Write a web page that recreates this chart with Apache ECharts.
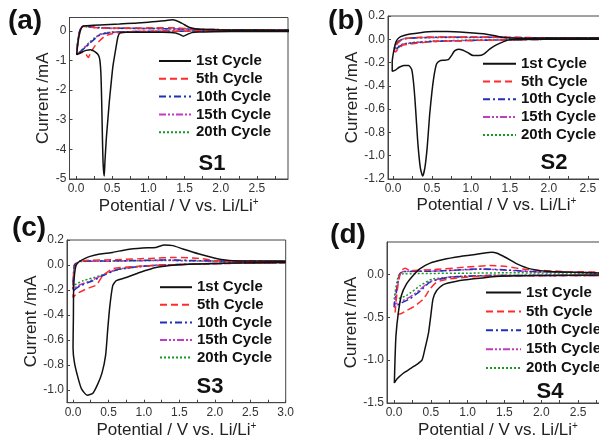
<!DOCTYPE html>
<html>
<head>
<meta charset="utf-8">
<script src="https://cdn.jsdelivr.net/npm/echarts@6/dist/echarts.min.js"></script>
<style>html,body{margin:0;padding:0;background:#fff}#c{width:599px;height:439px}</style>
</head>
<body>
<div id="c"></div>
<script>
// ---------- data ----------
const cycleNames = ['1st Cycle', '5th Cycle', '10th Cycle', '15th Cycle', '20th Cycle'];
const panelLabels = ['(a)', '(b)', '(c)', '(d)'];
const sampleLabels = ['S1', 'S2', 'S3', 'S4'];
const xTickLabels = [0, 0.5, 1.0, 1.5, 2.0, 2.5, 3.0];
const xMinorTicks = [0, 0.25, 0.5, 0.75, 1.0, 1.25, 1.5, 1.75, 2.0, 2.25, 2.5, 2.75, 3.0];
const yTicksA = [-5, -4, -3, -2, -1, 0];
const yTicksB = [-1.2, -1.0, -0.8, -0.6, -0.4, -0.2, 0.0, 0.2];
const yTicksC = [-1.0, -0.8, -0.6, -0.4, -0.2, 0.0, 0.2];
const yTicksD = [-1.5, -1.0, -0.5, 0.0];

// S1
const s1_c1 = [[2.95,-0.02],[2.4,-0.02],[1.9,-0.03],[1.7,-0.04],[1.6,-0.06],[1.54,-0.12],[1.48,-0.18],[1.44,-0.13],[1.38,-0.07],[1.2,-0.05],[0.9,-0.05],[0.7,-0.05],[0.61,-0.07],[0.58,-0.2],[0.55,-0.6],[0.51,-1.2],[0.48,-1.9],[0.46,-2.4],[0.44,-3.0],[0.42,-3.6],[0.4,-4.4],[0.39,-4.9],[0.375,-4.5],[0.365,-3.6],[0.355,-2.4],[0.345,-1.5],[0.33,-1.0],[0.31,-0.82],[0.26,-0.7],[0.2,-0.64],[0.14,-0.66],[0.08,-0.72],[0.04,-0.77],[0.01,-0.8],[0.02,-0.55],[0.04,-0.2],[0.07,0.08],[0.1,0.16],[0.15,0.17],[0.33,0.2],[0.6,0.23],[0.8,0.26],[1.0,0.29],[1.25,0.35],[1.34,0.37],[1.46,0.26],[1.57,0.11],[1.7,0.05],[2.0,0.03],[2.95,0.02]];
const s1_c5 = [[2.95,0.0],[2.0,0.0],[1.5,-0.01],[1.0,-0.02],[0.7,-0.04],[0.5,-0.1],[0.4,-0.18],[0.32,-0.35],[0.25,-0.55],[0.2,-0.75],[0.17,-0.9],[0.14,-0.8],[0.1,-0.72],[0.05,-0.76],[0.01,-0.8],[0.02,-0.5],[0.04,-0.15],[0.07,0.08],[0.1,0.15],[0.15,0.15],[0.25,0.11],[0.5,0.09],[1.0,0.1],[1.4,0.1],[1.6,0.06],[2.0,0.04],[2.95,0.03]];
const s1_c10 = [[2.95,0.0],[2.0,0.0],[1.5,-0.01],[1.0,-0.02],[0.7,-0.03],[0.5,-0.05],[0.4,-0.09],[0.33,-0.14],[0.26,-0.27],[0.19,-0.42],[0.13,-0.56],[0.08,-0.66],[0.04,-0.75],[0.01,-0.8],[0.02,-0.45],[0.04,-0.1],[0.07,0.1],[0.1,0.17],[0.15,0.15],[0.26,0.12],[0.5,0.09],[1.0,0.08],[1.5,0.06],[2.0,0.04],[2.95,0.03]];
const s1_c15 = [[2.95,0.0],[2.0,0.0],[1.5,-0.01],[1.0,-0.02],[0.7,-0.03],[0.5,-0.05],[0.4,-0.08],[0.33,-0.13],[0.26,-0.25],[0.19,-0.4],[0.13,-0.54],[0.08,-0.65],[0.04,-0.74],[0.01,-0.79],[0.02,-0.45],[0.04,-0.1],[0.07,0.1],[0.1,0.16],[0.15,0.15],[0.26,0.11],[0.5,0.09],[1.0,0.08],[1.5,0.06],[2.0,0.04],[2.95,0.03]];
const s1_c20 = [[2.95,0.0],[2.0,0.0],[1.5,-0.01],[1.0,-0.02],[0.7,-0.03],[0.5,-0.04],[0.4,-0.07],[0.33,-0.12],[0.26,-0.23],[0.19,-0.38],[0.13,-0.52],[0.08,-0.64],[0.04,-0.73],[0.01,-0.78],[0.02,-0.45],[0.04,-0.1],[0.07,0.1],[0.1,0.16],[0.15,0.14],[0.26,0.11],[0.5,0.08],[1.0,0.08],[1.5,0.06],[2.0,0.04],[2.95,0.03]];

// S2
const s2_c1 = [[3.0,0.0],[2.2,0.0],[1.7,0.0],[1.5,-0.005],[1.42,-0.02],[1.32,-0.05],[1.24,-0.085],[1.17,-0.125],[1.1,-0.14],[1.03,-0.14],[0.96,-0.115],[0.9,-0.094],[0.84,-0.085],[0.79,-0.1],[0.75,-0.14],[0.71,-0.175],[0.65,-0.18],[0.6,-0.185],[0.56,-0.21],[0.53,-0.3],[0.5,-0.45],[0.47,-0.65],[0.44,-0.92],[0.41,-1.1],[0.38,-1.175],[0.35,-1.1],[0.32,-0.9],[0.3,-0.7],[0.28,-0.5],[0.26,-0.35],[0.24,-0.26],[0.2,-0.225],[0.14,-0.225],[0.08,-0.24],[0.03,-0.265],[-0.01,-0.275],[-0.01,-0.2],[0.01,-0.1],[0.04,-0.02],[0.08,0.015],[0.13,0.03],[0.22,0.045],[0.35,0.057],[0.52,0.066],[0.7,0.066],[0.94,0.058],[1.2,0.044],[1.42,0.015],[1.6,0.008],[2.0,0.01],[3.0,0.01]];
const s2_c5 = [[3.0,0.005],[2.0,0.0],[1.5,-0.005],[1.0,-0.01],[0.5,-0.02],[0.3,-0.035],[0.13,-0.05],[0.07,-0.08],[0.03,-0.11],[0.02,-0.1],[0.04,-0.05],[0.09,-0.015],[0.15,0.005],[0.3,0.015],[0.7,0.02],[1.2,0.02],[1.5,0.018],[2.0,0.012],[3.0,0.01]];
const s2_c10 = [[3.0,0.005],[2.0,0.0],[1.5,-0.005],[1.0,-0.01],[0.5,-0.02],[0.3,-0.03],[0.13,-0.045],[0.07,-0.07],[0.03,-0.09],[0.02,-0.085],[0.04,-0.045],[0.09,-0.012],[0.15,0.006],[0.3,0.014],[0.7,0.018],[1.2,0.018],[1.5,0.016],[2.0,0.012],[3.0,0.01]];
const s2_c15 = [[3.0,0.005],[2.0,0.0],[1.5,-0.005],[1.0,-0.01],[0.5,-0.018],[0.3,-0.028],[0.13,-0.042],[0.07,-0.065],[0.03,-0.085],[0.02,-0.08],[0.04,-0.04],[0.09,-0.01],[0.15,0.006],[0.3,0.013],[0.7,0.017],[1.2,0.017],[1.5,0.015],[2.0,0.011],[3.0,0.01]];
const s2_c20 = [[3.0,0.005],[2.0,0.0],[1.5,-0.005],[1.0,-0.008],[0.5,-0.016],[0.3,-0.025],[0.13,-0.04],[0.07,-0.06],[0.03,-0.075],[0.02,-0.07],[0.04,-0.035],[0.09,-0.008],[0.15,0.006],[0.3,0.012],[0.7,0.016],[1.2,0.016],[1.5,0.014],[2.0,0.011],[3.0,0.01]];

// S3
const s3_c1 = [[3.0,0.021],[2.25,0.016],[1.78,0.008],[1.45,0.0],[1.17,-0.02],[0.94,-0.06],[0.75,-0.1],[0.61,-0.125],[0.56,-0.165],[0.52,-0.325],[0.49,-0.51],[0.46,-0.72],[0.41,-0.86],[0.35,-0.95],[0.28,-1.024],[0.2,-1.04],[0.12,-0.99],[0.07,-0.9],[0.02,-0.78],[0.0,-0.66],[0.005,-0.43],[0.01,-0.166],[0.04,-0.006],[0.1,0.032],[0.17,0.053],[0.24,0.069],[0.38,0.088],[0.56,0.101],[0.75,0.123],[0.98,0.136],[1.17,0.141],[1.29,0.16],[1.41,0.155],[1.55,0.128],[1.78,0.088],[2.02,0.053],[2.25,0.035],[3.0,0.032]];
const s3_c5 = [[3.0,0.018],[2.25,0.013],[1.31,0.0],[0.84,-0.013],[0.56,-0.03],[0.42,-0.085],[0.33,-0.16],[0.19,-0.19],[0.05,-0.23],[0.0,-0.26],[0.02,-0.03],[0.07,0.02],[0.14,0.035],[0.61,0.043],[1.08,0.053],[1.45,0.061],[1.78,0.053],[2.02,0.035],[3.0,0.027]];
const s3_c10 = [[3.0,0.02],[2.0,0.012],[1.08,-0.005],[0.66,-0.032],[0.47,-0.072],[0.28,-0.126],[0.1,-0.166],[0.0,-0.206],[0.02,0.0],[0.1,0.032],[0.38,0.032],[1.31,0.04],[1.8,0.035],[3.0,0.027]];
const s3_c15 = [[3.0,0.02],[2.0,0.012],[1.08,-0.005],[0.66,-0.03],[0.47,-0.066],[0.28,-0.118],[0.1,-0.158],[0.0,-0.19],[0.02,0.0],[0.1,0.03],[0.38,0.03],[1.31,0.038],[1.8,0.033],[3.0,0.027]];
const s3_c20 = [[3.0,0.02],[2.0,0.012],[1.08,-0.005],[0.61,-0.04],[0.38,-0.086],[0.14,-0.126],[0.0,-0.166],[0.02,0.0],[0.1,0.028],[0.38,0.03],[1.31,0.036],[1.8,0.032],[3.0,0.027]];

// S4
const s4_c1 = [[2.95,-0.004],[1.89,-0.011],[1.44,-0.019],[1.08,-0.05],[0.85,-0.078],[0.67,-0.117],[0.58,-0.187],[0.53,-0.284],[0.5,-0.479],[0.47,-0.674],[0.42,-0.868],[0.38,-1.0],[0.31,-1.05],[0.22,-1.1],[0.13,-1.15],[0.04,-1.22],[0.005,-1.266],[0.014,-0.985],[0.027,-0.71],[0.06,-0.44],[0.1,-0.245],[0.17,-0.11],[0.26,-0.011],[0.35,0.066],[0.49,0.133],[0.67,0.175],[0.9,0.21],[1.08,0.23],[1.21,0.249],[1.33,0.261],[1.4,0.249],[1.51,0.202],[1.67,0.124],[1.85,0.066],[2.12,0.035],[2.95,0.016]];
const s4_c5 = [[2.95,-0.011],[1.21,-0.019],[0.76,-0.05],[0.58,-0.089],[0.49,-0.167],[0.4,-0.284],[0.28,-0.37],[0.17,-0.42],[0.08,-0.46],[0.014,-0.46],[0.027,-0.323],[0.06,-0.089],[0.1,0.047],[0.15,0.074],[0.22,0.047],[0.53,0.058],[0.98,0.086],[1.3,0.105],[1.53,0.093],[1.8,0.058],[2.35,0.035],[2.95,0.027]];
const s4_c10 = [[2.95,-0.011],[1.44,-0.011],[0.76,-0.03],[0.49,-0.089],[0.36,-0.19],[0.22,-0.28],[0.08,-0.34],[0.0,-0.38],[0.04,-0.167],[0.08,0.008],[0.13,0.035],[0.53,0.039],[1.21,0.066],[1.44,0.058],[1.89,0.035],[2.95,0.02]];
const s4_c15 = [[2.95,-0.01],[1.44,-0.01],[0.76,-0.028],[0.49,-0.08],[0.36,-0.17],[0.22,-0.26],[0.08,-0.32],[0.0,-0.35],[0.04,-0.15],[0.08,0.01],[0.13,0.035],[0.53,0.04],[1.21,0.062],[1.44,0.055],[1.89,0.033],[2.95,0.02]];
const s4_c20 = [[2.95,-0.008],[1.44,-0.008],[0.53,-0.05],[0.36,-0.128],[0.17,-0.245],[0.0,-0.3],[0.06,-0.011],[0.13,0.008],[1.0,0.016],[1.5,0.02],[2.95,0.015]];

// ---------- styling / layout ----------
const FONT = '"Liberation Sans", Arial, Helvetica, sans-serif';
const cycleStyles = [
  {color: '#111111', type: 'solid'},
  {color: '#ff2b2b', type: [7, 4]},
  {color: '#2030b8', type: [7, 3, 2, 3]},
  {color: '#c03cc0', type: [7, 2, 2, 2, 2, 2]},
  {color: '#159a25', type: [2, 2]}
];
const panels = [
  {data: [s1_c1, s1_c5, s1_c10, s1_c15, s1_c20], grid: {left: 69.5, top: 17.5, width: 218.5, height: 161.5},
   x: [-0.09, 2.93], y: [-5, 0.45], yTicks: yTicksA, yFmt: v => String(Math.round(v)), yGap: 14, xGap: 18,
   legend: {left: 158, top: 53.5, gap: 2.8, w: 32}, lab: [25, 21.7], s: [212, 164]},
  {data: [s2_c1, s2_c5, s2_c10, s2_c15, s2_c20], grid: {left: 388, top: 16, width: 217, height: 163},
   x: [-0.064, 2.72], y: [-1.2, 0.2], yTicks: yTicksB, yFmt: v => v.toFixed(1), yGap: 25, xGap: 15.5,
   legend: {left: 482, top: 56.2, gap: 2.8, w: 33}, lab: [346, 21], s: [554, 163]},
  {data: [s3_c1, s3_c5, s3_c10, s3_c15, s3_c20], grid: {left: 67, top: 240, width: 218.7, height: 162.7},
   x: [-0.085, 3.0], y: [-1.1, 0.2], yTicks: yTicksC, yFmt: v => v.toFixed(1), yGap: 25.5, xGap: 19,
   legend: {left: 159, top: 279.7, gap: 2.6, w: 32}, lab: [29, 228], s: [210, 387]},
  {data: [s4_c1, s4_c5, s4_c10, s4_c15, s4_c20], grid: {left: 387, top: 242, width: 222, height: 161},
   x: [-0.095, 2.92], y: [-1.5, 0.38], yTicks: yTicksD, yFmt: v => v.toFixed(1), yGap: 24, xGap: 18.5,
   legend: {left: 485, top: 285, gap: 3.9, w: 35}, lab: [348, 235], s: [550, 392]}
];

const option = {
  animation: false,
  backgroundColor: '#ffffff',
  textStyle: {fontFamily: FONT},
  grid: [], xAxis: [], yAxis: [], series: [], legend: [], graphic: []
};

panels.forEach((p, i) => {
  option.grid.push(Object.assign({show: true, borderColor: '#444', borderWidth: 1, backgroundColor: 'transparent',
    containLabel: false, outerBoundsMode: 'none'}, p.grid));
  option.xAxis.push({
    type: 'value', gridIndex: i, min: p.x[0], max: p.x[1],
    name: 'Potential / V vs. Li/Li{sup|+}', nameLocation: 'middle', nameGap: p.xGap,
    nameTextStyle: {fontFamily: FONT, fontSize: 17, color: '#222',
      rich: {sup: {fontFamily: FONT, fontSize: 10, color: '#222', verticalAlign: 'top', padding: [0, 0, 8, 0]}}},
    axisLine: {show: true, onZero: false, lineStyle: {color: '#444'}},
    splitLine: {show: false},
    axisTick: {show: true, inside: true, length: 3, lineStyle: {color: '#444'}, customValues: xMinorTicks},
    axisLabel: {customValues: xTickLabels, formatter: v => v.toFixed(1), fontFamily: FONT, fontSize: 12, color: '#333', margin: 4}
  });
  option.yAxis.push({
    type: 'value', gridIndex: i, min: p.y[0], max: p.y[1],
    name: 'Current /mA', nameLocation: 'middle', nameGap: p.yGap,
    nameTextStyle: {fontFamily: FONT, fontSize: 17, color: '#222'},
    axisLine: {show: true, onZero: false, lineStyle: {color: '#444'}},
    splitLine: {show: false},
    axisTick: {show: true, inside: true, length: 3, lineStyle: {color: '#444'}, customValues: p.yTicks},
    axisLabel: {customValues: p.yTicks, formatter: p.yFmt, fontFamily: FONT, fontSize: 12, color: '#333', margin: 3}
  });
  p.data.forEach((d, k) => {
    option.series.push({
      type: 'line', name: cycleNames[k], xAxisIndex: i, yAxisIndex: i,
      data: d, symbol: 'none', showSymbol: false, smooth: 0.2, clip: true,
      lineStyle: {color: cycleStyles[k].color, width: 1.5, type: cycleStyles[k].type},
      itemStyle: {color: cycleStyles[k].color},
      z: 10 - k
    });
  });
  option.legend.push({
    data: cycleNames, orient: 'vertical', left: p.legend.left, top: p.legend.top, padding: 0,
    itemWidth: p.legend.w, itemHeight: 12, itemGap: p.legend.gap, selectedMode: false,
    itemStyle: {opacity: 0},
    lineStyle: {width: 2},
    textStyle: {fontFamily: FONT, fontSize: 15, fontWeight: 'bold', color: '#111', lineHeight: 15}
  });
  option.graphic.push({
    type: 'text', x: p.lab[0], y: p.lab[1],
    style: {text: panelLabels[i], font: 'bold 28px ' + FONT, fill: '#111', textAlign: 'center', textVerticalAlign: 'middle', align: 'center', verticalAlign: 'middle'}
  });
  option.graphic.push({
    type: 'text', x: p.s[0], y: p.s[1],
    style: {text: sampleLabels[i], font: 'bold 22px ' + FONT, fill: '#111', textAlign: 'center', textVerticalAlign: 'middle', align: 'center', verticalAlign: 'middle'}
  });
});

const chart = echarts.init(document.getElementById('c'), null, {renderer: 'canvas'});
chart.setOption(option);
</script>
</body>
</html>
